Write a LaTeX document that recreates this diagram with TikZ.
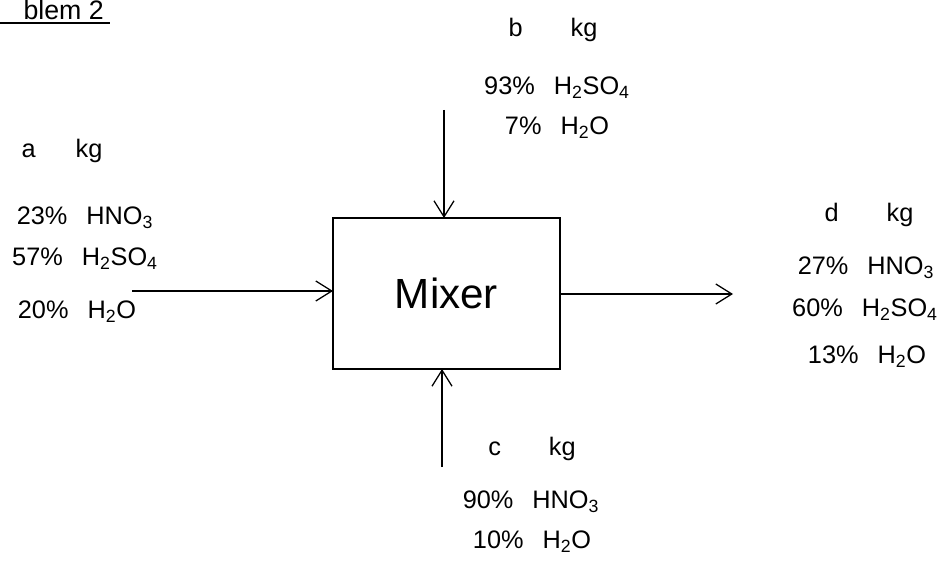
\documentclass[tikz,border=0pt]{standalone}
\usepackage{fontspec}
\setmainfont{Liberation Sans}
\usetikzlibrary{arrows.meta}
\tikzset{
    mixerbox/.style={
        draw=black,
        fill=white,
        line width=0.9pt,
        outer sep=0pt,
        minimum width=56.75mm,
        minimum height=37.75mm,
        font=\fontsize{30}{36}\selectfont
    },
    streamhead/.style={
        inner sep=0pt,
        font=\fontsize{18}{22}\selectfont
    },
    streamline/.style={
        inner sep=0pt,
        font=\fontsize{18}{22}\selectfont
    },
    titletext/.style={
        inner sep=0pt,
        font=\fontsize{19}{23}\selectfont
    },
    streamarrow/.style={
        -{Straight Barb[length=4mm,width=5mm]},
        draw=black,
        line width=0.9pt
    },
    titlerule/.style={
        draw=black,
        line width=0.9pt
    }
}

\begin{document}
\begin{tikzpicture}[x=0.25mm,y=-0.25mm]
        \useasboundingbox (0,0) rectangle (946,561);

        \node[titletext,anchor=base east] (title) at (104,20) {blem 2};
        \draw[titlerule] (0,23) -- (110,23);

        \node[mixerbox] (mixer) at (446.5,293.5) {Mixer};

        % feed a
        \node[streamhead] (feedahead) at (62,151) {a\hspace{10mm}kg};
        \node[streamline] (feedaHNO) at (85,218) {23\%\hspace{0.75em}HNO\textsubscript{3}};
        \node[streamline] (feedaHSO) at (85,259) {57\%\hspace{0.75em}H\textsubscript{2}SO\textsubscript{4}};
        \node[streamline] (feedaHO) at (77,312) {20\%\hspace{0.75em}H\textsubscript{2}O};

        % feed b
        \node[streamhead] (feedbhead) at (553,30) {b\hspace{12mm}kg};
        \node[streamline] (feedbHSO) at (557,88) {93\%\hspace{0.75em}H\textsubscript{2}SO\textsubscript{4}};
        \node[streamline] (feedbHO) at (557,128) {7\%\hspace{0.75em}H\textsubscript{2}O};

        % feed c
        \node[streamhead] (feedchead) at (532,449) {c\hspace{12mm}kg};
        \node[streamline] (feedcHNO) at (531,502) {90\%\hspace{0.75em}HNO\textsubscript{3}};
        \node[streamline] (feedcHO) at (532,542) {10\%\hspace{0.75em}H\textsubscript{2}O};

        % product d
        \node[streamhead] (productdhead) at (869,215) {d\hspace{12mm}kg};
        \node[streamline] (productdHNO) at (866,268) {27\%\hspace{0.75em}HNO\textsubscript{3}};
        \node[streamline] (productdHSO) at (865,310) {60\%\hspace{0.75em}H\textsubscript{2}SO\textsubscript{4}};
        \node[streamline] (productdHO) at (867,357) {13\%\hspace{0.75em}H\textsubscript{2}O};

        \coordinate (feedastart) at (132,291);
        \coordinate (feedbstart) at (444,110);
        \coordinate (feedcstart) at (442,467);
        \coordinate (productdend) at (733,294);

        \draw[streamarrow] (feedastart) -- (feedastart -| mixer.west);
        \draw[streamarrow] (feedbstart) -- (feedbstart |- mixer.north);
        \draw[streamarrow] (feedcstart) -- (feedcstart |- mixer.south);
        \draw[streamarrow] (mixer.east |- productdend) -- (productdend);
    \end{tikzpicture}
\end{document}
